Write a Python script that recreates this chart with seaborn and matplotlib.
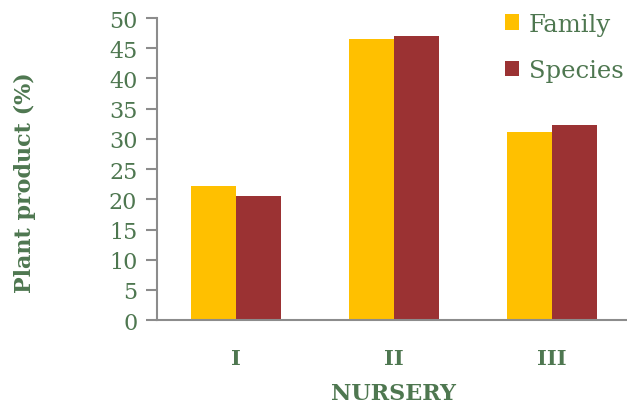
import numpy as np
import pandas as pd
import matplotlib
matplotlib.use('Agg')
import matplotlib.pyplot as plt
import seaborn as sns

# Data
nursery = ['I', 'II', 'III']
family = [22.2, 46.6, 31.1]
species = [20.5, 47.0, 32.3]

df = pd.DataFrame({
    'Nursery': nursery * 2,
    'Value': family + species,
    'Group': ['Family'] * 3 + ['Species'] * 3,
})

green = '#4E7750'
grey = '#8C8C8C'

sns.set_theme(style='white')
plt.rcParams['font.family'] = ['DejaVu Serif']

fig = plt.figure(figsize=(6.27, 4.06), dpi=100)
ax = fig.add_axes([0.25, 0.209, 0.756, 0.744])

sns.barplot(data=df, x='Nursery', y='Value', hue='Group',
            palette=['#FFC000', '#9B3233'], width=0.57,
            linewidth=0, saturation=1, ax=ax)

ax.set_ylim(0, 50)
ax.set_xlim(-0.5, 2.5)
ax.set_yticks(range(0, 51, 5))
ax.tick_params(axis='y', labelsize=16, colors=grey, labelcolor=green,
               direction='out', length=8, width=1.5, left=True, pad=6)
ax.tick_params(axis='x', labelsize=15, labelcolor=green, length=0, pad=20)
for lab in ax.get_xticklabels():
    lab.set_fontweight('bold')

for side in ['top', 'right']:
    ax.spines[side].set_visible(False)
for side in ['left', 'bottom']:
    ax.spines[side].set_color(grey)
    ax.spines[side].set_linewidth(1.5)

ax.set_xlabel('NURSERY', fontsize=16, fontweight='bold', color=green, labelpad=10)
ax.set_ylabel('Plant product (%)', fontsize=16, fontweight='bold', color=green)
ax.yaxis.set_label_coords(-0.255, 0.457)

leg = ax.legend(loc='upper left', bbox_to_anchor=(0.77, 1.02),
                bbox_transform=fig.transFigure, frameon=False,
                fontsize=17.5, labelcolor=green, handlelength=0.6, handleheight=0.6,
                handletextpad=0.4, labelspacing=0.95)

fig.savefig('out.png', dpi=100)
